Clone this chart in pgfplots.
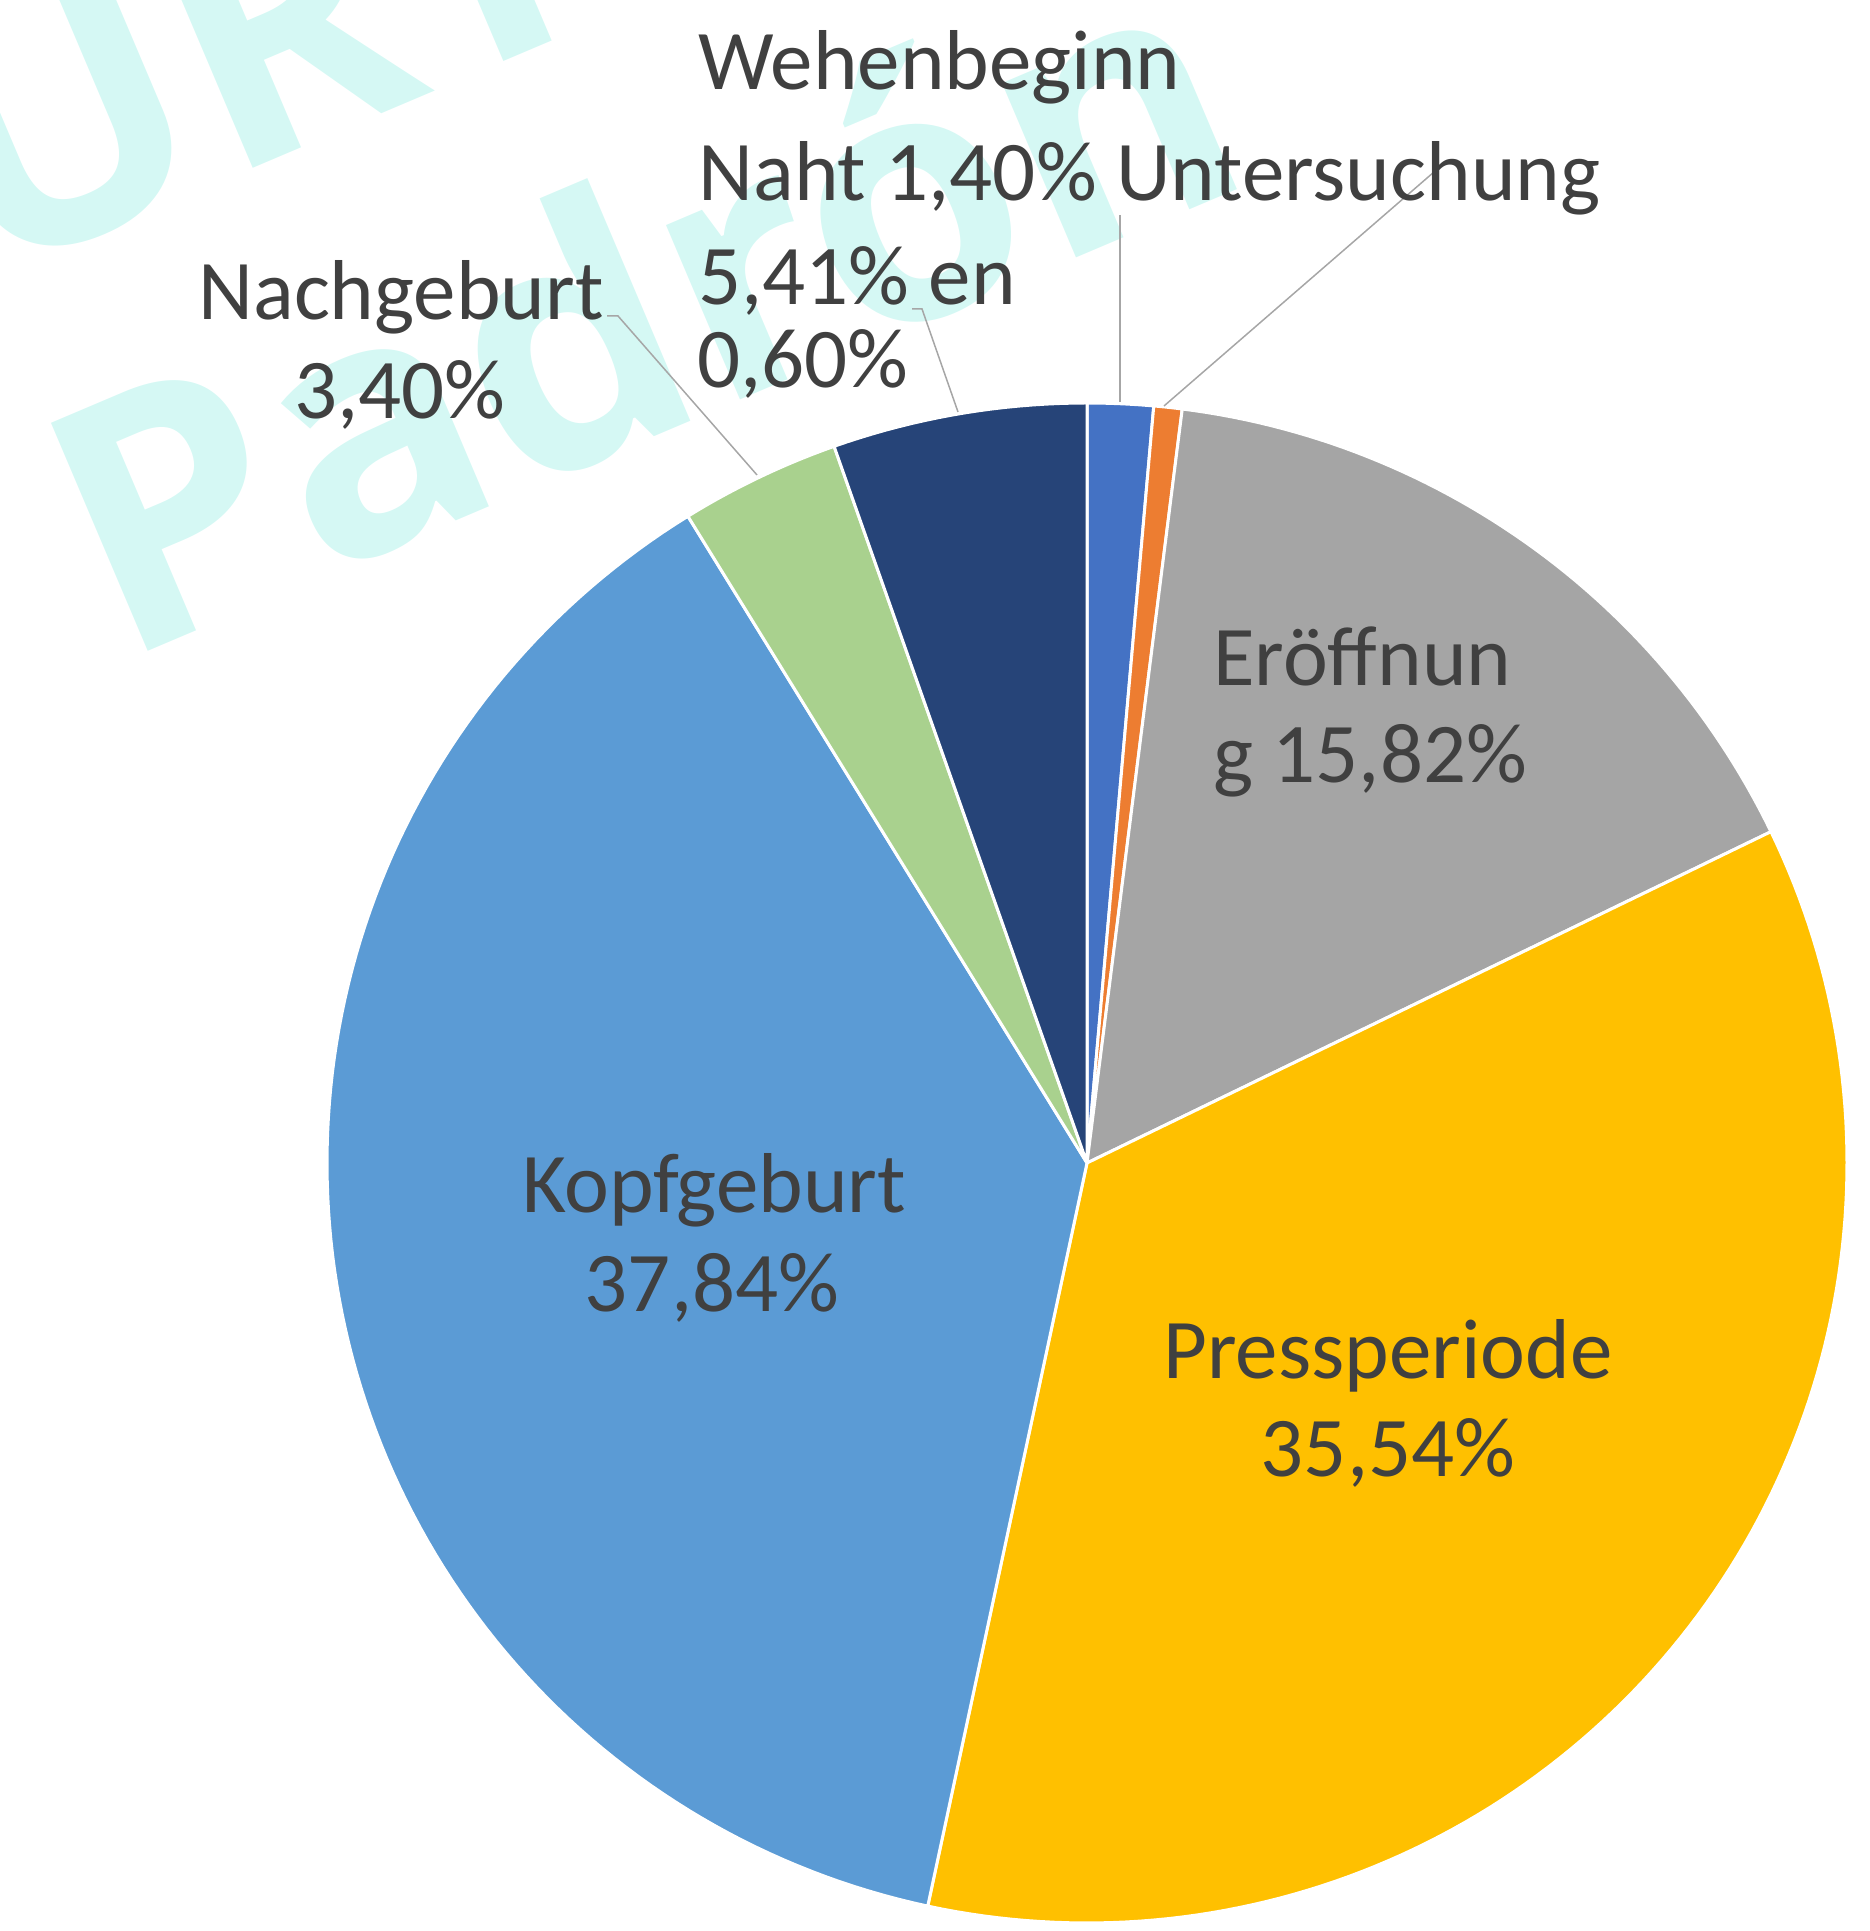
\documentclass[border=0pt]{standalone}
\usepackage{pgfplots}
\pgfplotsset{compat=1.18}
\usepackage{fontspec}
\setmainfont{Carlito}
\newfontfamily\wmfont{Open Sans}
\definecolor{cWeh}{HTML}{4472C4}
\definecolor{cUnt}{HTML}{ED7D31}
\definecolor{cEro}{HTML}{A5A5A5}
\definecolor{cPre}{HTML}{FFC000}
\definecolor{cKop}{HTML}{5B9BD5}
\definecolor{cNac}{HTML}{A9D18E}
\definecolor{cNah}{HTML}{264478}
\definecolor{txt}{HTML}{404040}
\definecolor{lead}{HTML}{A6A6A6}
\definecolor{wmfill}{HTML}{D5F8F4}
\definecolor{wmline}{HTML}{B8F4EC}
\begin{document}
\begin{tikzpicture}
\begin{axis}[hide axis, scale only axis, width=934.5pt, height=965.5pt,
  xmin=0, xmax=1869, ymin=0, ymax=1931, clip=false]
\coordinate (SW) at (axis cs:0,0);
\coordinate (NE) at (axis cs:1869,1931);
% watermark
\node[rotate=23, anchor=base west, inner sep=0pt, text=wmfill,
  font=\wmfont\bfseries\fontsize{173.5}{180}\selectfont] at (axis cs:119.5,1267) {Padrón};
\node[rotate=23, anchor=base west, inner sep=0pt, text=wmfill,
  font=\wmfont\bfseries\fontsize{173.5}{180}\selectfont] at (axis cs:-17,1648) {URT};
% pie slices: percentages 1.40, 0.60, 15.82, 35.54, 37.84, 3.40, 5.41 (clockwise from top)
\addplot[fill=cWeh, draw=white, line width=1.5pt, line join=round, domain=90-3.6*1.40:90, samples=10]
  ({1087+760*cos(x)},{768+760*sin(x)}) -- (axis cs:1087,768) -- cycle;
\addplot[fill=cUnt, draw=white, line width=1.5pt, line join=round, domain=90-3.6*2.00:90-3.6*1.40, samples=6]
  ({1087+760*cos(x)},{768+760*sin(x)}) -- (axis cs:1087,768) -- cycle;
\addplot[fill=cEro, draw=white, line width=1.5pt, line join=round, domain=90-3.6*17.82:90-3.6*2.00, samples=60]
  ({1087+760*cos(x)},{768+760*sin(x)}) -- (axis cs:1087,768) -- cycle;
\addplot[fill=cPre, draw=white, line width=1.5pt, line join=round, domain=90-3.6*53.36:90-3.6*17.82, samples=120]
  ({1087+760*cos(x)},{768+760*sin(x)}) -- (axis cs:1087,768) -- cycle;
\addplot[fill=cKop, draw=white, line width=1.5pt, line join=round, domain=90-3.6*91.20:90-3.6*53.36, samples=120]
  ({1087+760*cos(x)},{768+760*sin(x)}) -- (axis cs:1087,768) -- cycle;
\addplot[fill=cNac, draw=white, line width=1.5pt, line join=round, domain=90-3.6*94.60:90-3.6*91.20, samples=15]
  ({1087+760*cos(x)},{768+760*sin(x)}) -- (axis cs:1087,768) -- cycle;
\addplot[fill=cNah, draw=white, line width=1.5pt, line join=round, domain=-270:90-3.6*94.60, samples=20]
  ({1087+760*cos(x)},{768+760*sin(x)}) -- (axis cs:1087,768) -- cycle;
% leader lines
\addplot[lead, line width=0.75pt, mark=none] coordinates {(1120,1716) (1120,1529)};
\addplot[lead, line width=0.75pt, mark=none] coordinates {(1434,1759) (1164,1525)};
\addplot[lead, line width=0.75pt, mark=none] coordinates {(912,1622) (922,1622) (958,1519)};
\addplot[lead, line width=0.75pt, mark=none] coordinates {(607,1615) (618,1615) (757,1456)};
% labels
\begin{scope}[every node/.style={inner sep=0pt, text=txt, font=\fontsize{42.5}{49.5}\selectfont}]
\node[anchor=base west] at (axis cs:698,1841) {Wehenbeginn};
\node[anchor=base west] at (axis cs:698,1730) {Naht 1,40\% Untersuchung};
\node[anchor=base west] at (axis cs:698,1626) {5,41\% en};
\node[anchor=base west] at (axis cs:697,1543) {0,60\%};
\node[anchor=base] at (axis cs:401,1611) {Nachgeburt};
\node[anchor=base] at (axis cs:400,1512) {3,40\%};
\node[anchor=base west] at (axis cs:1213,1245) {Eröffnun};
\node[anchor=base west] at (axis cs:1213,1148) {g 15,82\%};
\node[anchor=base] at (axis cs:714,718) {Kopfgeburt};
\node[anchor=base] at (axis cs:712,619) {37,84\%};
\node[anchor=base] at (axis cs:1388,552) {Pressperiode};
\node[anchor=base] at (axis cs:1388,454) {35,54\%};
\end{scope}
\end{axis}
\pgfresetboundingbox
\path[use as bounding box] (SW) rectangle (NE);
\end{tikzpicture}
\end{document}
